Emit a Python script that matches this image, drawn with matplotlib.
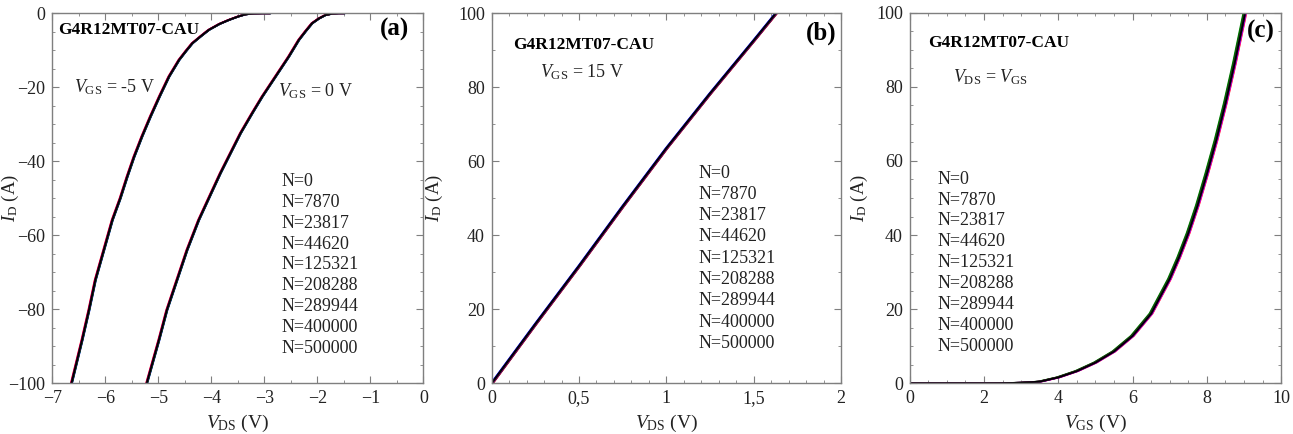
import numpy as np
import matplotlib
matplotlib.use("Agg")
import matplotlib.pyplot as plt
from matplotlib.ticker import MultipleLocator

plt.rcParams["font.family"] = ["Liberation Serif", "DejaVu Serif"]
plt.rcParams["mathtext.fontset"] = "custom"
plt.rcParams["mathtext.rm"] = "Liberation Serif"
plt.rcParams["mathtext.it"] = "Liberation Serif:italic"
plt.rcParams["mathtext.bf"] = "Liberation Serif:bold"

# cycle counts and colours of the overlapping curves
cycles = [0, 7870, 23817, 44620, 125321, 208288, 289944, 400000, 500000]
colors = ["black", "red", "blue", "green", "magenta", "navy", "darkred", "darkgreen", "purple"]

# (a) third quadrant, I_D vs V_DS
vds_m5 = [-6.64, -6.44, -6.31, -6.19, -6.03, -5.87, -5.72, -5.59, -5.46, -5.31, -5.15, -4.98,
          -4.80, -4.61, -4.48, -4.36, -4.20, -4.05, -3.85, -3.67, -3.50, -3.36, -3.20, -3.04, -2.9]
id_m5 = [-100, -88.3, -80.2, -72.1, -64.0, -55.9, -50.0, -44.2, -38.8, -33.3, -27.9, -22.5,
         -17.1, -12.6, -10.2, -8.1, -6.2, -4.5, -2.9, -1.8, -0.9, -0.3, -0.05, 0, 0]
vds_0 = [-5.22, -4.99, -4.84, -4.65, -4.46, -4.24, -4.05, -3.83, -3.64, -3.45, -3.23, -3.04,
         -2.79, -2.54, -2.35, -2.22, -2.10, -1.97, -1.85, -1.72, -1.60, -1.5]
id_0 = [-100, -88.3, -80.2, -72.1, -64.0, -55.9, -50.0, -43.2, -37.8, -32.4, -27.0, -22.5,
        -17.1, -11.7, -7.2, -4.8, -2.7, -1.4, -0.5, -0.1, 0, 0]
shift_a = [0, -0.012, 0.012, 0.006, -0.006, 0.004, -0.004, 0.008, 0.0]

# (b) output curve, V_GS = 15 V
vds_b = [0, 0.25, 0.5, 0.75, 1.0, 1.25, 1.5, 1.65]
id_b = [0, 16, 31.7, 47.8, 63.5, 78.3, 92.6, 101.3]
shift_b = [0, 0.007, -0.004, 0.004, 0.003, -0.002, 0.002, 0.004, 0.005]

# (c) transfer curve, V_DS = V_GS
vgs_c = [0, 1, 2, 2.4, 3.0, 3.5, 4.0, 4.5, 5.0, 5.5, 6.0, 6.5, 7.0, 7.25, 7.5, 7.75, 8.0,
         8.25, 8.5, 8.75, 9.0, 9.15]
id_c = [0, 0, 0, 0.02, 0.15, 0.45, 1.6, 3.3, 5.6, 8.6, 12.8, 18.8, 28.2, 34, 40.5, 48, 56.5,
        65.5, 75.5, 86.5, 98.5, 106]
shift_c = [0, 0.035, 0.015, -0.045, 0.025, 0.01, -0.015, -0.03, 0.0]

fig = plt.figure(figsize=(12.93, 4.34), dpi=100)
ax_a = fig.add_axes([0.0405, 0.1168, 0.2869, 0.8526])
ax_b = fig.add_axes([0.3803, 0.1168, 0.2701, 0.8526])
ax_c = fig.add_axes([0.7036, 0.1168, 0.2872, 0.8539])

order = list(range(1, len(cycles))) + [0]
for i in order:
    kw = dict(color=colors[i], lw=1.3, solid_joinstyle="round")
    ax_a.plot(np.array(vds_m5) + shift_a[i], id_m5, **kw)
    ax_a.plot(np.array(vds_0) + shift_a[i], id_0, **kw)
    ax_b.plot(np.array(vds_b) + shift_b[i], id_b, **kw)
    ax_c.plot(np.array(vgs_c) + shift_c[i], id_c, **kw)

ax_a.set_xlim(-7, 0)
ax_a.set_ylim(-100, 0)
ax_a.xaxis.set_major_locator(MultipleLocator(1))
ax_a.xaxis.set_minor_locator(MultipleLocator(0.5))
ax_a.yaxis.set_major_locator(MultipleLocator(20))
ax_a.yaxis.set_minor_locator(MultipleLocator(5))

ax_b.set_xlim(0, 2)
ax_b.set_ylim(0, 100)
ax_b.xaxis.set_minor_locator(MultipleLocator(0.1))
ax_b.yaxis.set_major_locator(MultipleLocator(20))
ax_b.yaxis.set_minor_locator(MultipleLocator(10))
ax_b.set_xticks([0, 0.5, 1, 1.5, 2])
ax_b.set_xticklabels(["0", "0,5", "1", "1,5", "2"])

ax_c.set_xlim(0, 10)
ax_c.set_ylim(0, 100)
ax_c.xaxis.set_major_locator(MultipleLocator(2))
ax_c.xaxis.set_minor_locator(MultipleLocator(0.5))
ax_c.yaxis.set_major_locator(MultipleLocator(20))
ax_c.yaxis.set_minor_locator(MultipleLocator(5))

for ax in [ax_a, ax_b, ax_c]:
    for s in ax.spines.values():
        s.set_color("#7f7f7f")
        s.set_linewidth(1.0)
    ax.tick_params(which="both", direction="in", top=True, right=True, colors="#7f7f7f",
                   labelcolor="#222222", labelsize=13)
    ax.tick_params(which="major", length=5, pad=5)
    ax.tick_params(which="minor", length=2.5)
    ax.set_ylabel(r"$I_{\mathrm{D}}$ (A)", fontsize=13.5, color="#222222")

ax_a.yaxis.set_label_coords(-0.085, 0.5)
ax_b.yaxis.set_label_coords(-0.134, 0.5)
ax_c.yaxis.set_label_coords(-0.107, 0.5)

ax_a.set_xlabel(r"$V_{\mathrm{DS}}$ (V)", fontsize=14, color="#222222", labelpad=4)
ax_b.set_xlabel(r"$V_{\mathrm{DS}}$ (V)", fontsize=14, color="#222222", labelpad=4)
ax_c.set_xlabel(r"$V_{\mathrm{GS}}$ (V)", fontsize=14, color="#222222", labelpad=4)

# annotations
ax_a.text(0.015, 0.955, "G4R12MT07-CAU", transform=ax_a.transAxes, fontsize=12.5, fontweight="bold", va="center")
ax_a.text(0.961, 0.955, "(a)", transform=ax_a.transAxes, fontsize=18, fontweight="bold", va="center", ha="right")
ax_a.text(0.058, 0.80, r"$V_{\mathrm{GS}}$ = -5 V", transform=ax_a.transAxes, fontsize=13, va="center", color="#222222")
ax_a.text(0.608, 0.79, r"$V_{\mathrm{GS}}$ = 0 V", transform=ax_a.transAxes, fontsize=13, va="center", color="#222222")

ax_b.text(0.062, 0.914, "G4R12MT07-CAU", transform=ax_b.transAxes, fontsize=12.5, fontweight="bold", va="center")
ax_b.text(0.986, 0.946, "(b)", transform=ax_b.transAxes, fontsize=18, fontweight="bold", va="center", ha="right")
ax_b.text(0.138, 0.842, r"$V_{\mathrm{GS}}$ = 15 V", transform=ax_b.transAxes, fontsize=13, va="center", color="#222222")

ax_c.text(0.050, 0.917, "G4R12MT07-CAU", transform=ax_c.transAxes, fontsize=12.5, fontweight="bold", va="center")
ax_c.text(0.984, 0.949, "(c)", transform=ax_c.transAxes, fontsize=18, fontweight="bold", va="center", ha="right")
ax_c.text(0.117, 0.827, r"$V_{\mathrm{DS}}$ = $V_{\mathrm{GS}}$", transform=ax_c.transAxes, fontsize=13, va="center", color="#222222")

legend_pos = [(ax_a, 0.618, 0.545, 0.0946), (ax_b, 0.592, 0.568, 0.108), (ax_c, 0.074, 0.551, 0.099)]
for ax, x0, ytop, ybot in legend_pos:
    step = (ytop - ybot) / (len(cycles) - 1)
    for k, n in enumerate(cycles):
        ax.text(x0, ytop - k * step, "N=" + str(n), transform=ax.transAxes, fontsize=13,
                va="center", color="#222222")

fig.savefig("out.png", dpi=100)
